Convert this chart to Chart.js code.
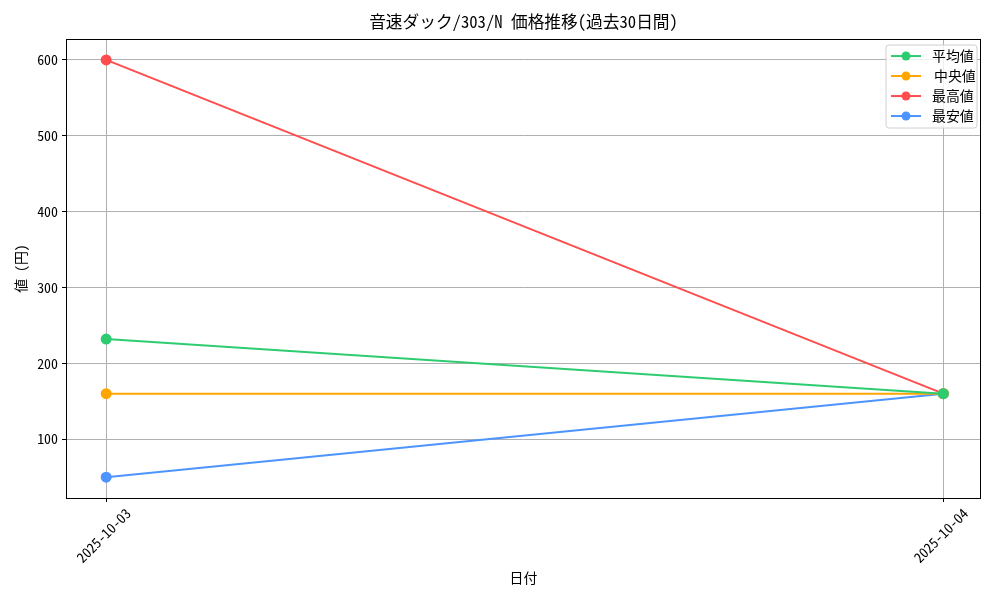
<!DOCTYPE html>
<html><head><meta charset="utf-8">
<script src="https://cdn.jsdelivr.net/npm/chart.js@4/dist/chart.umd.min.js"></script>
<style>html,body{margin:0;padding:0;background:#fff}#wrap{width:1000px;height:600px}</style>
</head><body><div id="wrap"><canvas id="c" width="1000" height="600"></canvas></div>
<script>
const categories = ['2025-10-03', '2025-10-04'];
const avgValues = [232, 160];
const medianValues = [160, 160];
const maxValues = [600, 160];
const minValues = [50, 160];
const yTicks = [100, 200, 300, 400, 500, 600];
const seriesNames = ['平均値', '中央値', '最高値', '最安値'];
const seriesColors = ['#2ecc71', '#ffa500', '#ff4d4d', '#4d94ff'];
const titleText = '音速ダック/303/N 価格推移(過去30日間)';
const xTitle = '日付';
const yTitle = '値 (円)';

const FONT = "'Noto Sans Mono CJK JP', 'Noto Sans CJK JP', monospace";
const seriesValues = [avgValues, medianValues, maxValues, minValues];

const datasets = seriesNames.map((n, i) => ({
  label: n,
  data: seriesValues[i].map((v, j) => ({x: j, y: v})),
  borderColor: seriesColors[i],
  backgroundColor: seriesColors[i],
  pointBackgroundColor: seriesColors[i],
  pointBorderColor: seriesColors[i],
  borderWidth: 2,
  pointRadius: 4.5,
  pointHoverRadius: 4.5,
  tension: 0
}));

const framePlugin = {
  id: 'frame',
  afterLayout(chart) {
    const a = chart.chartArea;
    if (chart.titleBlock) {
      chart.titleBlock.left = a.left;
      chart.titleBlock.right = a.right;
    }
  },
  afterDatasetsDraw(chart) {
    const {ctx, chartArea: a} = chart;
    ctx.save();
    ctx.strokeStyle = '#000';
    ctx.lineWidth = 1;
    ctx.strokeRect(Math.round(a.left) + 0.5, Math.round(a.top) + 0.5, Math.round(a.right - a.left) - 1, Math.round(a.bottom - a.top));
    ctx.restore();
  },
  afterDraw(chart) {
    const {ctx, chartArea: a} = chart;
    const ds = chart.data.datasets;
    ctx.save();
    const boxW = 91, rowH = 20;
    const boxH = 10 + rowH * ds.length - 7;
    const bx = a.right - 4 - boxW, by = a.top + 6;
    ctx.fillStyle = 'rgba(255,255,255,0.8)';
    ctx.strokeStyle = '#d0d0d0';
    ctx.lineWidth = 1;
    const r = 3;
    ctx.beginPath();
    ctx.moveTo(bx + r, by);
    ctx.arcTo(bx + boxW, by, bx + boxW, by + boxH, r);
    ctx.arcTo(bx + boxW, by + boxH, bx, by + boxH, r);
    ctx.arcTo(bx, by + boxH, bx, by, r);
    ctx.arcTo(bx, by, bx + boxW, by, r);
    ctx.closePath();
    ctx.fill();
    ctx.stroke();
    ctx.font = '13.9px ' + FONT;
    ctx.textBaseline = 'middle';
    ds.forEach((d, i) => {
      const cy = by + 11 + i * rowH;
      ctx.strokeStyle = d.borderColor;
      ctx.lineWidth = 2;
      ctx.beginPath();
      ctx.moveTo(bx + 5, cy);
      ctx.lineTo(bx + 35, cy);
      ctx.stroke();
      ctx.fillStyle = d.borderColor;
      ctx.beginPath();
      ctx.arc(bx + 20, cy, 4.5, 0, Math.PI * 2);
      ctx.fill();
      ctx.fillStyle = '#000';
      ctx.fillText(d.label, bx + 46 + (i === 1 ? 2 : 0), cy);
    });
    ctx.restore();
  }
};

new Chart(document.getElementById('c'), {
  type: 'line',
  data: {datasets},
  plugins: [framePlugin],
  options: {
    responsive: false,
    animation: false,
    devicePixelRatio: 1,
    layout: {padding: {left: 0, right: 19, top: 0, bottom: 0}},
    plugins: {
      legend: {display: false},
      tooltip: {enabled: false},
      title: {
        display: true,
        text: titleText,
        color: '#000',
        font: {family: FONT, size: 16.7, weight: 'normal', lineHeight: 1.2},
        padding: {top: 12, bottom: 7}
      }
    },
    scales: {
      x: {
        type: 'linear',
        min: -0.048,
        max: 1.045,
        afterBuildTicks(scale) { scale.ticks = categories.map((c, i) => ({value: i})); },
        afterFit(scale) { scale.height = 102; },
        ticks: {
          color: '#000',
          font: {family: FONT, size: 13.9},
          minRotation: 45,
          maxRotation: 45,
          padding: 3,
          labelOffset: 22,
          callback: (v) => categories[v] !== undefined ? categories[v] : ''
        },
        grid: {color: '#b0b0b0', lineWidth: 1, tickColor: '#000', tickLength: 4, drawTicks: true},
        border: {display: false},
        title: {display: true, text: xTitle, color: '#000', font: {family: FONT, size: 13.9}, padding: {top: 0, bottom: 14}}
      },
      y: {
        type: 'linear',
        min: 22.5,
        max: 627.5,
        afterBuildTicks(scale) { scale.ticks = yTicks.map(v => ({value: v})); },
        afterFit(scale) { scale.width = 66; },
        ticks: {color: '#000', font: {family: FONT, size: 13.9}, padding: 4},
        grid: {color: '#b0b0b0', lineWidth: 1, tickColor: '#000', tickLength: 4, drawTicks: true},
        border: {display: false},
        title: {display: true, text: yTitle, color: '#000', font: {family: FONT, size: 13.9}, padding: {top: 12, bottom: 0}}
      }
    }
  }
});
</script></body></html>
